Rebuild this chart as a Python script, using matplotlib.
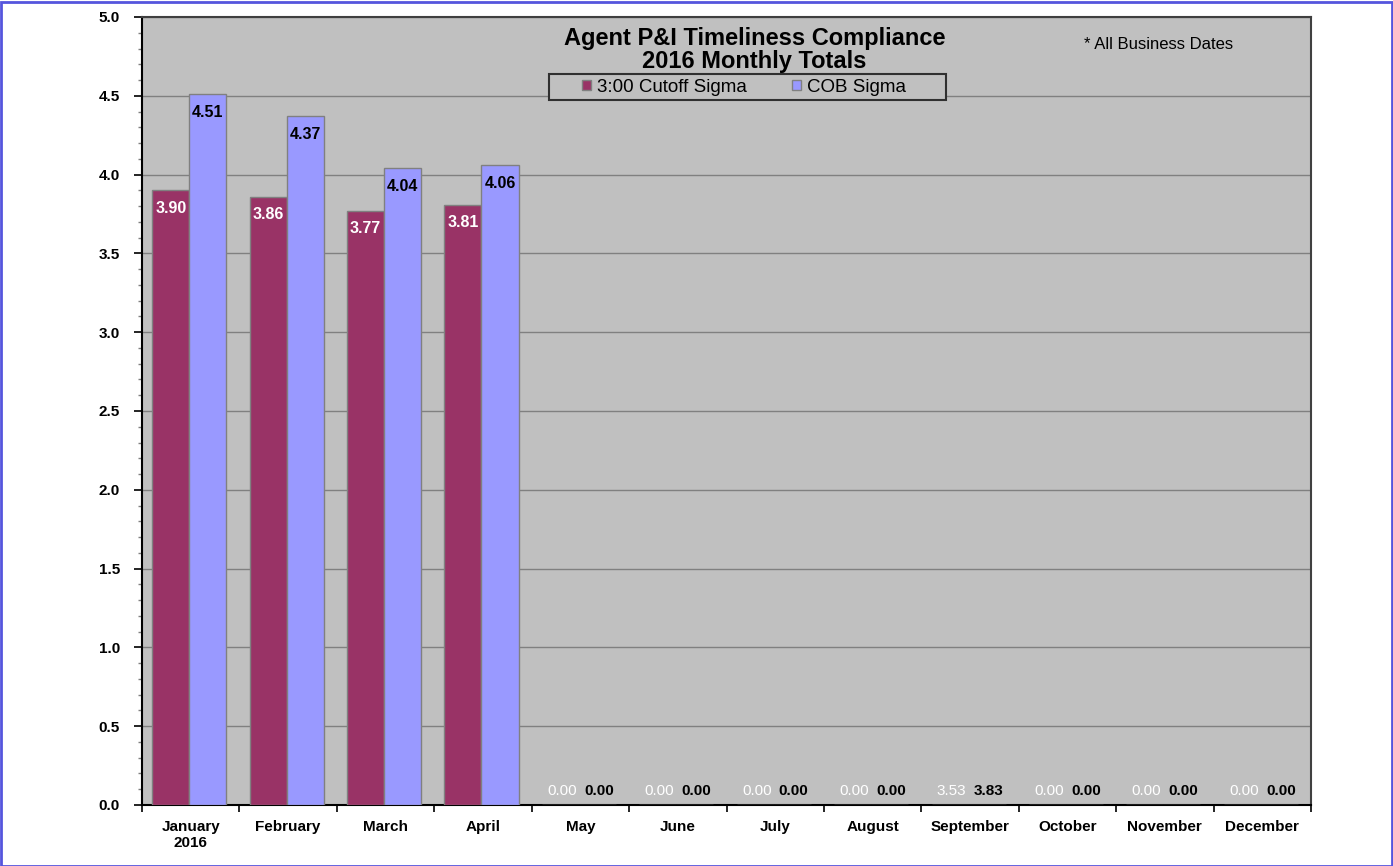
import matplotlib
matplotlib.use("Agg")
import matplotlib.pyplot as plt
import numpy as np
from matplotlib.ticker import MultipleLocator
from matplotlib.patches import Rectangle

plt.rcParams['font.family'] = ['Liberation Sans', 'DejaVu Sans']

months = ["January\n2016", "February", "March", "April", "May", "June", "July",
          "August", "September", "October", "November", "December"]
cutoff = [3.90, 3.86, 3.77, 3.81, 0, 0, 0, 0, 0, 0, 0, 0]
cob = [4.51, 4.37, 4.04, 4.06, 0, 0, 0, 0, 0, 0, 0, 0]
cutoff_labels = ["3.90", "3.86", "3.77", "3.81", "0.00", "0.00", "0.00", "0.00",
                 "3.53", "0.00", "0.00", "0.00"]
cob_labels = ["4.51", "4.37", "4.04", "4.06", "0.00", "0.00", "0.00", "0.00",
              "3.83", "0.00", "0.00", "0.00"]

W, H = 1393, 866
fig = plt.figure(figsize=(W/100, H/100), dpi=100)
fig.patch.set_facecolor("white")
fig.patches.append(Rectangle((0.0005, 0.0005), 0.999, 0.997, transform=fig.transFigure,
                             fill=False, edgecolor="#5555DD", linewidth=2))
ax = fig.add_axes([142/W, 61/H, (1311-142)/W, (805-17)/H])
ax.set_facecolor("#C0C0C0")

x = np.arange(len(months))
w = 0.38
ax.bar(x - w/2 - 0.015, cutoff, w, color="#993366", edgecolor="#808080", linewidth=1,
       label="3:00 Cutoff Sigma", zorder=3)
ax.bar(x + w/2 - 0.015, cob, w, color="#9999FF", edgecolor="#808080", linewidth=1,
       label="COB Sigma", zorder=3)

for i in range(len(months)):
    if cutoff[i] > 0:
        ax.text(x[i] - w/2 - 0.015, cutoff[i] - 0.115, cutoff_labels[i], ha="center", va="center",
                color="white", fontsize=11.5, fontweight="bold", zorder=4)
    else:
        ax.text(x[i] - w/2, 0.09, cutoff_labels[i], ha="center", va="center",
                color="white", fontsize=11, zorder=4)
    if cob[i] > 0:
        ax.text(x[i] + w/2 - 0.015, cob[i] - 0.115, cob_labels[i], ha="center", va="center",
                color="black", fontsize=11.5, fontweight="bold", zorder=4)
    else:
        ax.text(x[i] + w/2, 0.09, cob_labels[i], ha="center", va="center",
                color="black", fontsize=11, fontweight="bold", zorder=4)

ax.set_xlim(-0.5, len(months) - 0.5)
ax.set_ylim(0, 5)
ax.yaxis.set_minor_locator(MultipleLocator(0.1))
ax.set_yticks(np.arange(0, 5.01, 0.5))
ax.set_yticklabels([f"{v:.1f}" for v in np.arange(0, 5.01, 0.5)], fontweight="bold", fontsize=11)
ax.grid(axis="y", which="major", color="#808080", linewidth=1, zorder=0)
ax.set_axisbelow(True)

ax.set_xticks(np.arange(-0.5, len(months), 1.0))
ax.set_xticklabels([])
ax.set_xticks(x, minor=True)
ax.set_xticklabels(months, minor=True, fontweight="bold", fontsize=11, va="top", linespacing=1.15)
ax.tick_params(axis="x", which="major", direction="out", length=5, width=1.2, color="black")
ax.tick_params(axis="x", which="minor", length=0, pad=11)
ax.tick_params(axis="y", which="major", direction="out", length=6, width=1.2, pad=10)
ax.tick_params(axis="y", which="minor", direction="out", length=3, width=1, color="#808080")

for s in ["left", "bottom"]:
    ax.spines[s].set_color("black")
    ax.spines[s].set_linewidth(1.5)
for s in ["top", "right"]:
    ax.spines[s].set_color("#404040")
    ax.spines[s].set_linewidth(1.5)

ax.text(0.524, 0.987, "Agent P&I Timeliness Compliance\n2016 Monthly Totals",
        transform=ax.transAxes, ha="center", va="top", fontsize=17, fontweight="bold",
        linespacing=1.0)
ax.text(0.806, 0.974, "* All Business Dates", transform=ax.transAxes, ha="left", va="top",
        fontsize=12)

# legend box (frame drawn separately for asymmetric padding like the original)
fig.patches.append(Rectangle((549/W, (H-100)/H), (946-549)/W, 26/H, transform=fig.transFigure,
                             facecolor="#C0C0C0", edgecolor="#303030", linewidth=1.5, zorder=5))
leg = fig.legend(*ax.get_legend_handles_labels(), loc="center left",
                 bbox_to_anchor=(582/W, (H-87)/H), ncol=2, frameon=False, fontsize=13.5,
                 handlelength=0.5, handleheight=0.5, handletextpad=0.3, columnspacing=2.4,
                 borderpad=0.0, borderaxespad=0)
leg.set_zorder(6)

fig.savefig("out.png", dpi=100)
